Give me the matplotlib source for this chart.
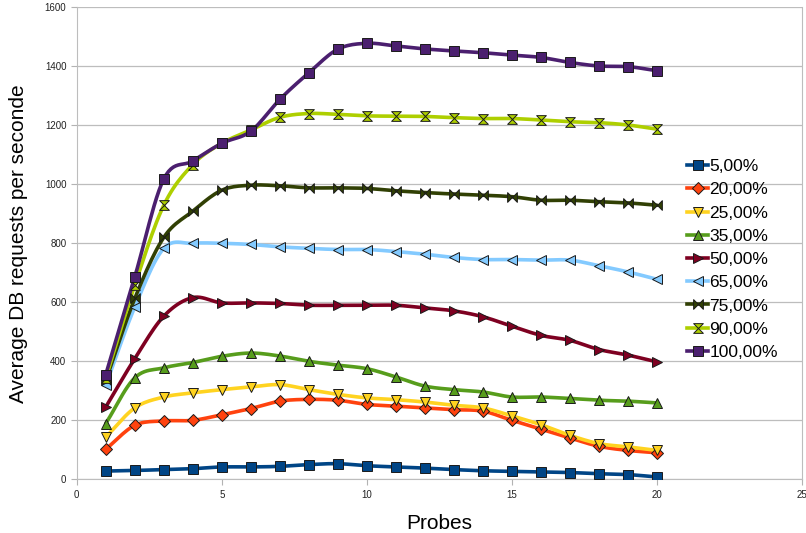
import numpy as np
import matplotlib
matplotlib.use("Agg")
import matplotlib.pyplot as plt
from matplotlib.path import Path

plt.rcParams['font.family'] = ['Liberation Sans', 'DejaVu Sans']

probes = list(range(1, 21))
labels = ["5,00%", "20,00%", "25,00%", "35,00%", "50,00%", "65,00%", "75,00%", "90,00%", "100,00%"]

s5 = [28, 30, 33, 36, 42, 42, 44, 50, 53, 46, 42, 38, 33, 29, 27, 25, 23, 19, 16, 8]
s20 = [102, 183, 198, 200, 219, 240, 265, 271, 268, 254, 248, 242, 236, 231, 200, 170, 140, 112, 98, 90]
s25 = [143, 242, 279, 293, 304, 313, 321, 304, 288, 276, 270, 262, 251, 242, 215, 185, 149, 121, 110, 98]
s35 = [189, 344, 378, 396, 417, 428, 418, 400, 387, 375, 347, 316, 304, 296, 279, 279, 274, 268, 265, 259]
s50 = [245, 409, 553, 616, 598, 598, 596, 590, 590, 590, 590, 581, 571, 551, 519, 488, 471, 440, 421, 398]
s65 = [319, 584, 783, 800, 800, 796, 788, 783, 779, 779, 772, 763, 752, 745, 745, 743, 743, 724, 703, 678]
s75 = [335, 613, 820, 909, 980, 997, 995, 988, 988, 986, 978, 972, 967, 963, 958, 946, 946, 941, 937, 929]
s90 = [343, 658, 929, 1067, 1139, 1184, 1227, 1240, 1237, 1232, 1231, 1230, 1226, 1223, 1223, 1218, 1212, 1209, 1201, 1187]
s100 = [355, 686, 1018, 1079, 1139, 1180, 1288, 1378, 1458, 1478, 1469, 1459, 1452, 1446, 1438, 1430, 1413, 1401, 1399, 1385]
series = [s5, s20, s25, s35, s50, s65, s75, s90, s100]

xticks = [0, 5, 10, 15, 20, 25]
yticks = [0, 200, 400, 600, 800, 1000, 1200, 1400, 1600]

colors = ["#004586", "#ff420e", "#ffd320", "#579d1c", "#7e0021", "#83caff", "#314004", "#aecf00", "#4b1f6f"]

bowtie = Path([(-1, -1), (-1, 1), (1, -1), (1, 1), (-1, -1)],
              [Path.MOVETO, Path.LINETO, Path.LINETO, Path.LINETO, Path.CLOSEPOLY])
hourglass = Path([(-1, 1), (1, 1), (-1, -1), (1, -1), (-1, 1)],
                 [Path.MOVETO, Path.LINETO, Path.LINETO, Path.LINETO, Path.CLOSEPOLY])
markers = ["s", "D", "v", "^", ">", "<", bowtie, hourglass, "s"]
msizes = [7, 6, 7, 7, 7, 7, 7, 7, 7]


def catmull(x, y, n=12):
    x = np.asarray(x, float)
    y = np.asarray(y, float)
    px = np.concatenate([[2 * x[0] - x[1]], x, [2 * x[-1] - x[-2]]])
    py = np.concatenate([[2 * y[0] - y[1]], y, [2 * y[-1] - y[-2]]])
    ox, oy = [], []
    t = np.linspace(0, 1, n, endpoint=False)
    for i in range(1, len(px) - 2):
        for arr, out in ((px, ox), (py, oy)):
            p0, p1, p2, p3 = arr[i - 1], arr[i], arr[i + 1], arr[i + 2]
            out.extend(0.5 * ((2 * p1) + (-p0 + p2) * t + (2 * p0 - 5 * p1 + 4 * p2 - p3) * t ** 2
                              + (-p0 + 3 * p1 - 3 * p2 + p3) * t ** 3))
    ox.append(x[-1])
    oy.append(y[-1])
    return np.array(ox), np.array(oy)


fig = plt.figure(figsize=(8.06, 5.33), dpi=100)
ax = fig.add_axes([0.0952, 0.1007, 0.9000, 0.8856])

for vals, lab, c, m, ms in zip(series, labels, colors, markers, msizes):
    sx, sy = catmull(probes, vals)
    ax.plot(sx, sy, color=c, lw=2.6, zorder=3, solid_capstyle='round')
    ax.plot(probes, vals, linestyle='none', marker=m, ms=ms, markerfacecolor=c,
            markeredgecolor='#1a1a1a', markeredgewidth=0.7, zorder=4)
    ax.plot([], [], color=c, lw=2.6, marker=m, ms=ms, markerfacecolor=c,
            markeredgecolor='#1a1a1a', markeredgewidth=0.7, label=lab)

ax.set_xlim(0, 25)
ax.set_ylim(0, 1600)
ax.set_xticks(xticks)
ax.set_yticks(yticks)
ax.grid(axis='y', color='#bdbdbd', lw=0.9)
ax.set_axisbelow(True)
ax.spines['top'].set_visible(False)
for sp in ['left', 'bottom', 'right']:
    ax.spines[sp].set_color('#bdbdbd')
ax.tick_params(axis='both', colors='#b3b3b3', labelcolor='#222222', labelsize=7, length=4, width=0.8)

ax.set_xlabel("Probes", fontsize=15, labelpad=10)
ax.set_ylabel("Average DB requests per seconde", fontsize=15, labelpad=12)

leg = ax.legend(loc='upper left', bbox_to_anchor=(0.8415, 0.6785), frameon=False, fontsize=12.5,
                handlelength=1.2, handletextpad=0.08, labelspacing=0.465, borderaxespad=0, borderpad=0)

fig.savefig("out.png", dpi=100)
